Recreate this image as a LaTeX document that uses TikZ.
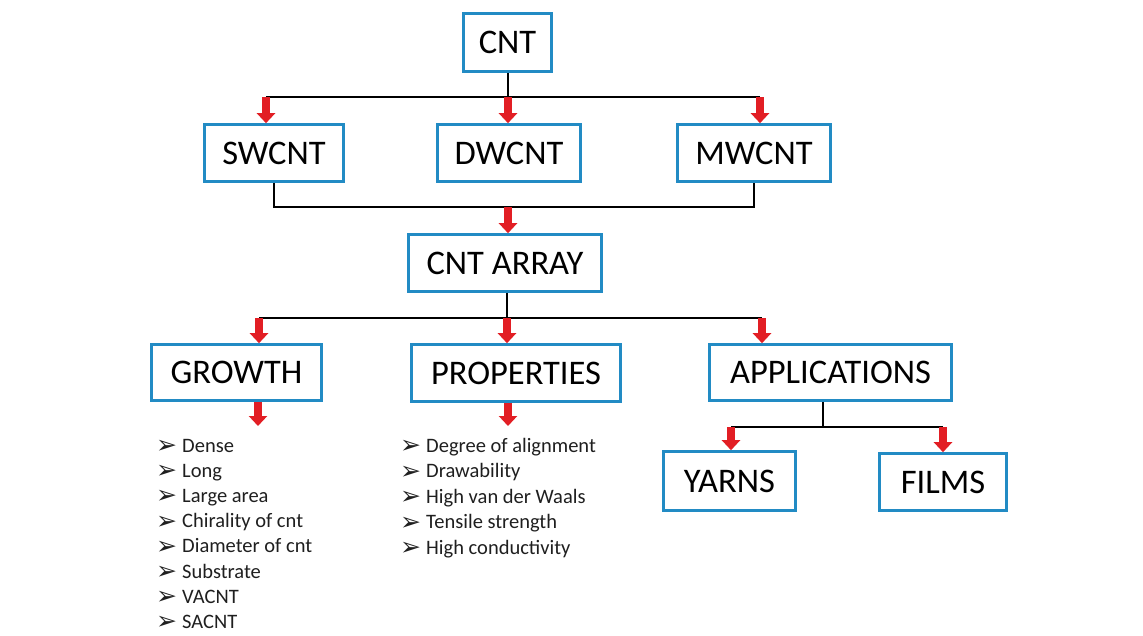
\documentclass[tikz,border=0pt]{standalone}
\usepackage{fontspec}
\setmainfont{Carlito}
\newfontfamily\symfont{DejaVu Sans}
\usetikzlibrary{arrows.meta}
\definecolor{boxblue}{RGB}{34,139,196}
\definecolor{arrowred}{RGB}{226,30,36}
\newcommand\listmark{\makebox[26pt][l]{\raisebox{-1.5pt}{\symfont\bfseries\fontsize{25}{26}\selectfont ➢}}}
\begin{document}
\begin{tikzpicture}[x=1pt,y=-1pt,
  box/.style={draw=boxblue, line width=2.6pt, fill=white, inner sep=0pt,
    text=black, font=\fontsize{34.5}{40}\selectfont},
  bar/.style={draw=black, line width=2pt},
  feed/.style={draw=arrowred, line width=7.5pt, -{Triangle[width=18pt,length=10pt]}},
  item/.style={inner sep=0pt, anchor=base west, text=black!88,
    font=\fontsize{20.5}{24}\selectfont}
]
\useasboundingbox (0,0) rectangle (1143,635);

% boxes
\node[box, minimum width=88pt,  minimum height=58pt] (cnt)   at (507.5,42.5) {CNT};
\node[box, minimum width=139pt, minimum height=57pt] (sw)    at (274,153)    {SWCNT};
\node[box, minimum width=143pt, minimum height=57pt] (dw)    at (509,153)    {DWCNT};
\node[box, minimum width=153pt, minimum height=57pt] (mw)    at (754,153)    {MWCNT};
\node[box, minimum width=193pt, minimum height=57pt] (arr)   at (505,263)    {CNT ARRAY};
\node[box, minimum width=170pt, minimum height=56pt] (gr)    at (236.5,372.5) {GROWTH};
\node[box, minimum width=209pt, minimum height=57pt] (prop)  at (516,373)    {PROPERTIES};
\node[box, minimum width=242pt, minimum height=56pt] (app)   at (830.5,372.5) {APPLICATIONS};
\node[box, minimum width=132pt, minimum height=59pt] (yarns) at (729.5,481)  {YARNS};
\node[box, minimum width=127pt, minimum height=57pt] (films) at (943,482)    {FILMS};

% junction points on the connector bars
\coordinate (t1) at (266,97);
\coordinate (t2) at (508,97);
\coordinate (t3) at (760,97);
\coordinate (m)  at (508,207);
\coordinate (b1) at (259,318);
\coordinate (b2) at (507,318);
\coordinate (b3) at (762,318);
\coordinate (gl) at (258,426);
\coordinate (pl) at (508,426);
\coordinate (ac) at (823,427);
\coordinate (a1) at (731,427);
\coordinate (a2) at (943,427);

% black connector bars
\draw[bar] (cnt.south) -- (cnt.south |- t2);
\draw[bar] (t1) -- (t3);
\draw[bar] (sw.south) -- (sw.south |- m) -- (mw.south |- m) -- (mw.south);
\draw[bar] (b2 |- arr.south) -- (b2);
\draw[bar] (b1) -- (b3);
\draw[bar] (ac |- app.south) -- (ac);
\draw[bar] (a1) -- (a2);

% red arrows
\draw[feed] (t1) -- (t1 |- sw.north);
\draw[feed] (t2) -- (t2 |- dw.north);
\draw[feed] (t3) -- (t3 |- mw.north);
\draw[feed] (m)  -- (m |- arr.north);
\draw[feed] (b1) -- (b1 |- gr.north);
\draw[feed] (b2) -- (b2 |- prop.north);
\draw[feed] (b3) -- (b3 |- app.north);
\draw[feed] (gl |- gr.south) -- (gl);
\draw[feed] (pl |- prop.south) -- (pl);
\draw[feed] (a1) -- (a1 |- yarns.north);
\draw[feed] (a2) -- (a2 |- films.north);

% feature lists
\foreach \t [count=\i] in {Dense, Long, Large area, Chirality of cnt,
    Diameter of cnt, Substrate, VACNT, SACNT}
  \node[item] (g\i) at (156,{452+25.2*(\i-1)}) {\listmark\t};
\foreach \t [count=\i] in {Degree of alignment, Drawability,
    High van der Waals, Tensile strength, High conductivity}
  \node[item] (p\i) at (400,{452+25.5*(\i-1)}) {\listmark\t};
\end{tikzpicture}
\end{document}
